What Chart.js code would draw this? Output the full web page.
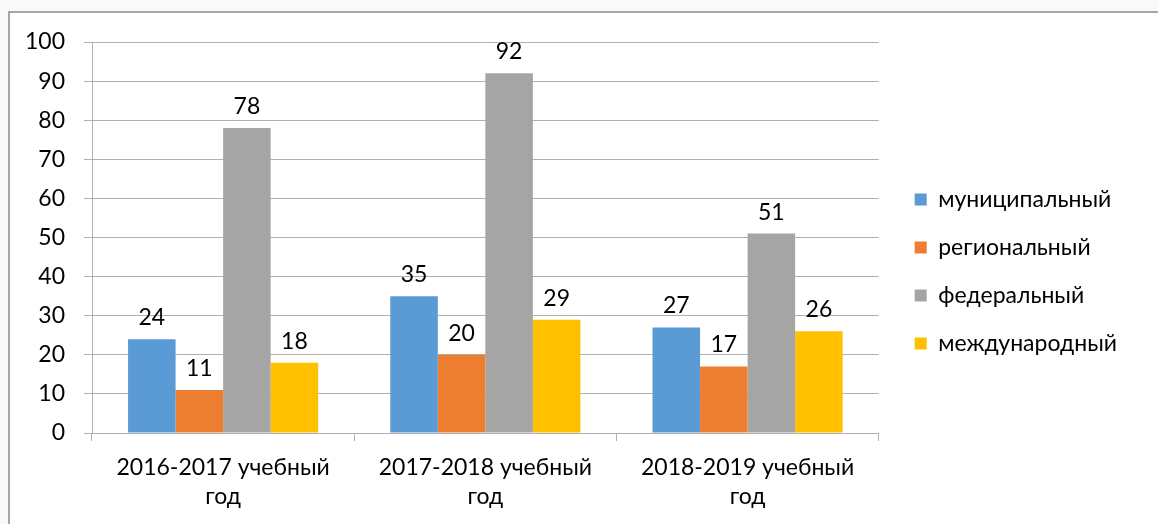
<!DOCTYPE html>
<html lang="ru">
<head>
    <meta charset="UTF-8">
    <title>Участие по уровням</title>
    <script src="https://cdn.jsdelivr.net/npm/chart.js"></script>
    <style>
        html, body { margin: 0; padding: 0; background: #f9f9f9; }
        #frame {
            position: absolute; left: 8px; top: 11px; right: 0; bottom: 0;
            background: #ffffff; border-left: 2px solid #a6a6a6; border-top: 2px solid #a6a6a6;
        }
        #wrap { position: absolute; left: 0; top: 0; width: 1158px; height: 524px; }
    </style>
</head>
<body>
    <div id="frame"></div>
    <div id="wrap"><canvas id="levelsChart" width="1158" height="524"></canvas></div>

    <script>
        // years and levels
        const years = [
            ['2016-2017 учебный', 'год'],
            ['2017-2018 учебный', 'год'],
            ['2018-2019 учебный', 'год']
        ];
        const municipal = [24, 35, 27];
        const regional = [11, 20, 17];
        const federal = [78, 92, 51];
        const international = [18, 29, 26];
        const seriesNames = ['муниципальный', 'региональный', 'федеральный', 'международный'];
        const seriesColors = ['#5b9bd5', '#ed7d31', '#a5a5a5', '#ffc000'];

        const FONT = "Lato, 'Noto Sans', sans-serif";
        const SIZE = 23;
        const gridColor = '#b0b0b0';

        // value labels above each bar
        const valueLabels = {
            id: 'valueLabels',
            afterDatasetsDraw(chart) {
                const ctx = chart.ctx;
                ctx.save();
                ctx.font = SIZE + 'px ' + FONT;
                ctx.fillStyle = '#000';
                ctx.textAlign = 'center';
                ctx.textBaseline = 'bottom';
                chart.data.datasets.forEach((ds, i) => {
                    chart.getDatasetMeta(i).data.forEach((bar, j) => {
                        ctx.fillText(ds.data[j], bar.x, bar.y - 10);
                    });
                });
                ctx.restore();
            }
        };

        // nudge the legend a bit away from the plot and up, like the original
        const legendShift = {
            id: 'legendShift',
            afterLayout(chart) {
                const lg = chart.legend;
                if (lg) {
                    lg.left += 11; lg.right += 11;
                    lg.top -= 11; lg.bottom -= 11;
                }
            }
        };

        const allSeries = [municipal, regional, federal, international];

        new Chart(document.getElementById('levelsChart'), {
            type: 'bar',
            data: {
                labels: years,
                datasets: allSeries.map((d, i) => ({
                    label: seriesNames[i],
                    data: d,
                    backgroundColor: seriesColors[i],
                    barPercentage: 1,
                    categoryPercentage: 0.725
                }))
            },
            options: {
                responsive: false,
                animation: false,
                layout: { padding: { top: 42, left: 10, right: 42, bottom: 1 } },
                plugins: {
                    tooltip: { enabled: false },
                    legend: {
                        position: 'right',
                        align: 'center',
                        labels: {
                            boxWidth: 12,
                            boxHeight: 12,
                            padding: 25,
                            color: '#000',
                            font: { family: FONT, size: SIZE }
                        }
                    }
                },
                scales: {
                    x: {
                        grid: {
                            display: true,
                            drawOnChartArea: false,
                            drawTicks: true,
                            tickLength: 8,
                            color: gridColor,
                            offset: true
                        },
                        border: { color: gridColor },
                        ticks: {
                            color: '#000',
                            font: { family: FONT, size: SIZE, lineHeight: 1.26 },
                            maxRotation: 0,
                            padding: 12
                        }
                    },
                    y: {
                        min: 0,
                        max: 100,
                        afterFit(scale) { scale.width = 82; },
                        grid: { color: gridColor, tickLength: 8 },
                        border: { color: gridColor },
                        ticks: {
                            stepSize: 10,
                            color: '#000',
                            padding: 19,
                            font: { family: FONT, size: SIZE }
                        }
                    }
                }
            },
            plugins: [valueLabels, legendShift]
        });
    </script>
</body>
</html>
